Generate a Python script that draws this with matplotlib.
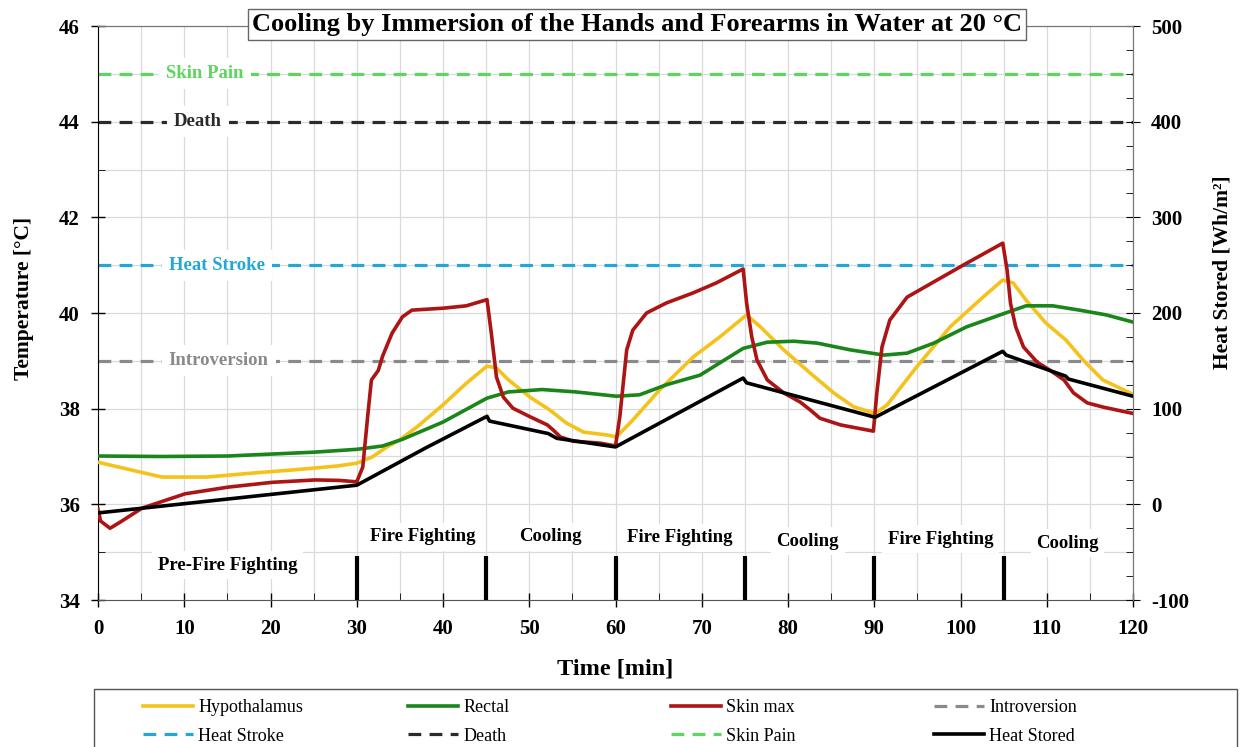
import matplotlib
matplotlib.use('Agg')
import matplotlib.pyplot as plt
from matplotlib.ticker import MultipleLocator
from matplotlib.patches import Rectangle

plt.rcParams['font.family'] = ['Liberation Serif', 'DejaVu Serif']
plt.rcParams['axes.unicode_minus'] = False

# --- data (time in min, temperature in degC, heat stored in Wh/m2)
hypo_t = [0, 7.4, 12.6, 17.7, 22.7, 27.7, 30, 31.8, 33.5, 35, 37, 40, 42.7, 45.1, 46.2, 47.6,
          50.1, 52.4, 54.3, 56.3, 59, 60.1, 62, 65.1, 69, 72.1, 75.2, 76.8, 79.5, 82.6, 85.3,
          87.6, 90.1, 91.5, 94.9, 98.8, 102.6, 104.9, 106.1, 107.6, 109.9, 112.2, 114.2,
          116.5, 120]
hypo = [36.88, 36.57, 36.57, 36.65, 36.72, 36.8, 36.86, 36.99, 37.2, 37.35, 37.62, 38.08,
        38.53, 38.89, 38.85, 38.6, 38.24, 37.97, 37.7, 37.51, 37.45, 37.41, 37.76, 38.39,
        39.08, 39.5, 39.96, 39.71, 39.23, 38.74, 38.33, 38.04, 37.9, 38.08, 38.87, 39.71,
        40.33, 40.69, 40.63, 40.27, 39.79, 39.44, 39.02, 38.6, 38.3]

rect_t = [0, 7.4, 15, 20, 25, 30, 33, 35.3, 40, 45.1, 47.6, 51.5, 55.4, 60.1, 62.8, 65.9,
          69.8, 74.8, 77.6, 80.7, 83.4, 87.2, 91.1, 93.8, 96.9, 100.7, 104.9, 107.6, 110.7,
          113.8, 116.9, 120]
rectal = [37.01, 37.0, 37.01, 37.05, 37.09, 37.15, 37.22, 37.36, 37.72, 38.22, 38.35, 38.4,
          38.35, 38.26, 38.29, 38.5, 38.7, 39.26, 39.39, 39.41, 39.37, 39.23, 39.12, 39.16,
          39.37, 39.71, 39.98, 40.15, 40.15, 40.06, 39.96, 39.81]

skin_t = [0, 0.3, 1.4, 2.5, 5.1, 10.1, 15.1, 20.2, 25.2, 28, 30, 30.7, 31.3, 31.7, 32.5, 33,
          34.1, 35.3, 36.4, 40, 42.7, 45.1, 45.6, 46.2, 47, 48.1, 50.1, 52.1, 52.8, 53.6,
          55.1, 58.2, 60, 60.5, 61.3, 62, 63.6, 65.9, 69, 71.7, 74.8, 75.2, 75.8, 76.4, 77.6,
          79.5, 81.4, 82.6, 83.7, 86.1, 89.9, 90.3, 90.9, 91.8, 93.8, 96.9, 100.7, 104.9,
          105.4, 105.8, 106.4, 107.3, 108.9, 110.4, 112, 113.1, 114.7, 116.6, 120]
skin = [35.9, 35.65, 35.5, 35.62, 35.92, 36.22, 36.36, 36.46, 36.51, 36.5, 36.47, 36.78,
        37.9, 38.6, 38.8, 39.1, 39.58, 39.92, 40.06, 40.1, 40.15, 40.28, 39.58, 38.66, 38.24,
        38.01, 37.83, 37.66, 37.55, 37.41, 37.32, 37.28, 37.22, 37.83, 39.23, 39.64, 40.0,
        40.21, 40.42, 40.63, 40.92, 40.21, 39.5, 39.02, 38.6, 38.33, 38.14, 37.97, 37.8,
        37.66, 37.53, 38.33, 39.29, 39.85, 40.33, 40.65, 41.04, 41.46, 40.9, 40.2, 39.71,
        39.29, 38.97, 38.8, 38.6, 38.33, 38.12, 38.03, 37.9]

heat_t = [0, 30, 38, 45.1, 45.4, 52.2, 53.2, 60, 74.8, 75.2, 90.1, 104.9, 105.3, 112.2,
          112.5, 120]
heat = [-9, 20, 59, 92, 87, 74, 69, 60, 132, 127, 91, 160, 156, 134, 131, 113]

# threshold temperatures
limits = ['Skin Pain', 'Death', 'Heat Stroke', 'Introversion']
limit_temp = [45, 44, 41, 39]
limit_col = ['#5cd65c', '#2b2b2b', '#22a7d8', '#8a8a8a']
limit_lab_x = [12.4, 11.6, 13.8, 14.0]

# phases of the experiment
phase_ends = [30, 45, 60, 75, 90, 105]
phases = ['Pre-Fire Fighting', 'Fire Fighting', 'Cooling', 'Fire Fighting', 'Cooling',
          'Fire Fighting', 'Cooling']
phase_x = [15, 37.6, 52.4, 67.4, 82.3, 97.7, 112.4]
phase_y = [34.73, 35.32, 35.32, 35.3, 35.23, 35.27, 35.19]

fig = plt.figure(figsize=(12.4, 7.47), dpi=100)
ax = fig.add_axes([98/1240, 1-600/747, 1035/1240, 574/747])
ax2 = ax.twinx()

ax.set_xlim(0, 120)
ax.set_ylim(34, 46)
ax2.set_ylim(-100, 500)

ax.xaxis.set_major_locator(MultipleLocator(10))
ax.xaxis.set_minor_locator(MultipleLocator(5))
ax.yaxis.set_major_locator(MultipleLocator(2))
ax.yaxis.set_minor_locator(MultipleLocator(1))
ax2.yaxis.set_major_locator(MultipleLocator(100))
ax2.yaxis.set_minor_locator(MultipleLocator(25))

ax.grid(which='both', color='#dadada', linestyle='-', linewidth=0.9)
ax.set_axisbelow(True)

handles = {}
for name, temp, col, lx in zip(limits, limit_temp, limit_col, limit_lab_x):
    h, = ax.plot([0, 120], [temp, temp], color=col, lw=2.3, linestyle=(0, (4, 2.6)),
                 label=name, zorder=2)
    handles[name] = h
    ax.text(lx, temp, name, color=col, fontsize=13.5, fontweight='bold',
            ha='center', va='center', zorder=3,
            bbox=dict(facecolor='white', edgecolor='none', pad=5))

handles['Hypothalamus'], = ax.plot(hypo_t, hypo, color='#f5c21b', lw=2.6, label='Hypothalamus', zorder=4)
handles['Rectal'], = ax.plot(rect_t, rectal, color='#1a861a', lw=2.6, label='Rectal', zorder=4)
handles['Skin max'], = ax.plot(skin_t, skin, color='#ad1414', lw=2.6, label='Skin max', zorder=5)
handles['Heat Stored'], = ax2.plot(heat_t, heat, color='black', lw=2.6, label='Heat Stored')

ax.vlines(phase_ends, 34, 34.93, color='black', lw=3, zorder=6)
for name, px, py in zip(phases, phase_x, phase_y):
    ax.text(px, py, name, fontsize=13.5, fontweight='bold', ha='center', va='center',
            zorder=3, bbox=dict(facecolor='white', edgecolor='none', pad=4))

ax.tick_params(which='major', direction='inout', length=10, labelsize=15, width=1)
ax.tick_params(which='minor', direction='in', length=5)
ax.tick_params(axis='x', pad=9)
ax.tick_params(axis='y', pad=8)
ax2.tick_params(which='major', direction='inout', length=10, labelsize=15, pad=8)
ax2.tick_params(which='minor', direction='in', length=5)
for lab in ax.get_xticklabels() + ax.get_yticklabels() + ax2.get_yticklabels():
    lab.set_fontweight('bold')

for s in ['top', 'right']:
    ax.spines[s].set_color('#777777')
    ax2.spines[s].set_color('#777777')
ax2.spines['left'].set_visible(False)
ax2.spines['bottom'].set_visible(False)
ax.spines['bottom'].set_color('#555555')

ax.set_xlabel('Time [min]', fontsize=17.5, fontweight='bold', labelpad=14)
ax.set_ylabel('Temperature [°C]', fontsize=15.5, fontweight='bold')
ax2.set_ylabel('Heat Stored [Wh/m²]', fontsize=15.5, fontweight='bold')
ax.yaxis.set_label_coords(-(98-34)/1035, (600-298)/574)
ax2.yaxis.set_label_coords(1+(1212-1133)/1035, (600-272)/574)

ax2.text(0.521, 1.003, 'Cooling by Immersion of the Hands and Forearms in Water at 20 °C',
         transform=ax2.transAxes, ha='center', va='center', fontsize=19, fontweight='bold',
         zorder=10, bbox=dict(boxstyle='square,pad=0.15', facecolor='white', edgecolor='#666666'))

# legend: four columns of two entries inside one frame
columns = [['Hypothalamus', 'Heat Stroke'], ['Rectal', 'Death'],
           ['Skin max', 'Skin Pain'], ['Introversion', 'Heat Stored']]
col_x = [143, 408, 671, 934]
fig.patches.append(Rectangle((94/1240, -0.02), (1237-94)/1240, 0.02+(747-689)/747,
                             transform=fig.transFigure, facecolor='white',
                             edgecolor='#555555', lw=1.0))
for names, cx in zip(columns, col_x):
    fig.legend([handles[k] for k in names], names, loc='upper left',
               bbox_to_anchor=(cx/1240, 1-699/747), frameon=False, fontsize=13,
               handlelength=2.75, handletextpad=0.3, borderpad=0, borderaxespad=0,
               labelspacing=0.65)

fig.savefig('out.png', dpi=100)
